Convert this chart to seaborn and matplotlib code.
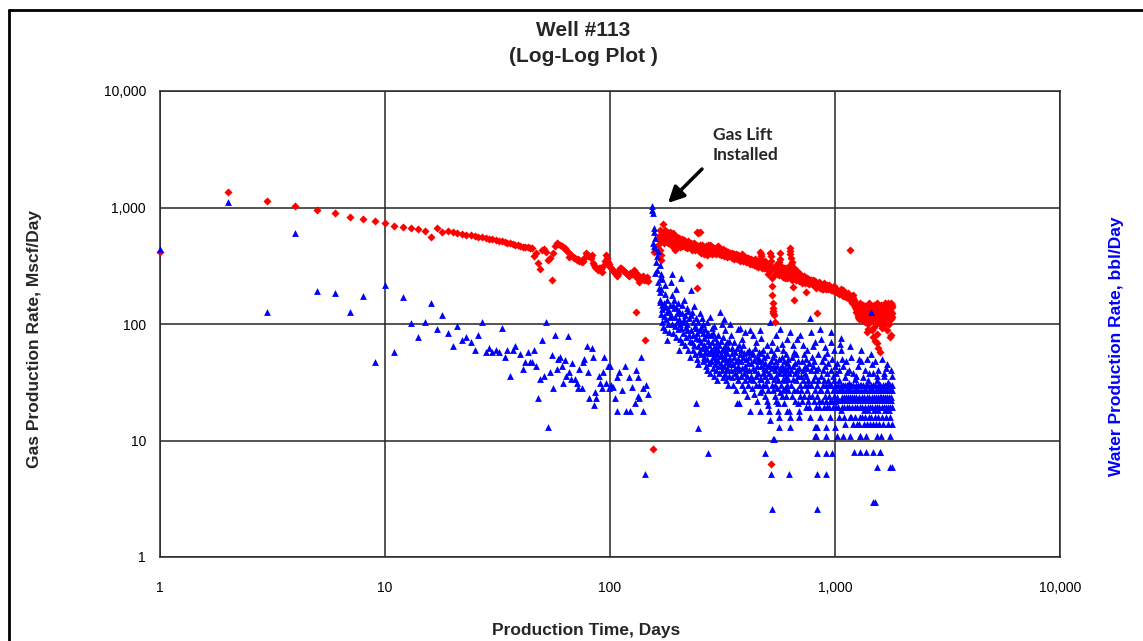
import matplotlib
matplotlib.use("Agg")
import matplotlib.pyplot as plt
import seaborn as sns
import pandas as pd
from matplotlib.lines import Line2D
from matplotlib.ticker import FixedLocator, FixedFormatter, NullLocator

sns.set_theme(style="white")
plt.rcParams["font.family"] = ["Liberation Sans", "DejaVu Sans"]

# ---------------- data (day, rate) ----------------
gas_pre_lift = [
    (1, 415), (2, 1360), (3, 1140), (4, 1030), (5, 952), (6, 897), (7, 830), (8, 800), (9, 765), (10, 736),
    (11, 700), (12, 680), (13, 667), (14, 650), (15, 625), (16, 558), (17, 667), (18, 617), (19, 625), (20, 617),
    (21, 600), (22, 592), (23, 584), (24, 577), (25, 570), (26, 562), (27, 555), (28, 548), (29, 541), (30, 534),
    (31, 527), (32, 520), (33, 514), (34, 507), (35, 500), (36, 494), (37, 486), (38, 480), (39, 473), (40, 466),
    (41, 458), (42, 462), (43, 455), (44, 452), (45, 448), (46, 384), (47, 410), (48, 334), (49, 297), (50, 433),
    (51, 440), (52, 418), (53, 354), (54, 365), (55, 239), (56, 405), (57, 470), (58, 496), (59, 485), (60, 476),
    (61, 465), (62, 455), (63, 445), (64, 433), (65, 412), (66, 376), (67, 392), (68, 382), (69, 370), (70, 365),
    (71, 354), (72, 358), (73, 350), (74, 345), (75, 340), (76, 348), (77, 372), (78, 405), (79, 395), (80, 380),
    (82, 372), (83, 390), (84, 334), (85, 320), (86, 310), (87, 300), (88, 290), (89, 305), (90, 300), (91, 295),
    (92, 280), (94, 320), (95, 350), (96, 390), (97, 365), (98, 340), (99, 325), (100, 309), (101, 300), (103, 290),
    (104, 282), (105, 275), (106, 268), (107, 256), (108, 270), (110, 290), (111, 305), (112, 300), (114, 290), (115, 285),
    (117, 278), (118, 274), (120, 265), (121, 260), (123, 275), (125, 270), (127, 282), (128, 290), (129, 275), (130, 127),
    (131, 253), (132, 268), (133, 265), (134, 248), (135, 229), (136, 240), (138, 245), (139, 255), (140, 260), (141, 250),
    (142, 238), (143, 73), (144, 245), (145, 240), (146, 255), (147, 232), (156, 8.4),
]

gas_post_lift = [
    (157, 415), (164, 478), (165, 560), (166, 433), (167, 580), (168, 354), (169, 390), (170, 614), (172, 721), (174, 600),
    (176, 590), (178, 560), (180, 620), (182, 575), (184, 600), (186, 560), (188, 545), (190, 580), (192, 540), (194, 433),
    (195, 550), (197, 505), (199, 525), (201, 530), (203, 500), (205, 520), (207, 505), (209, 498), (211, 515), (213, 510),
    (215, 490), (217, 480), (220, 478), (222, 470), (225, 490), (228, 495), (230, 475), (232, 460), (234, 470), (236, 470),
    (238, 455), (240, 450), (243, 614), (244, 204), (246, 600), (248, 321), (250, 614), (252, 460), (254, 440), (256, 465),
    (258, 455), (260, 450), (262, 430), (264, 445), (266, 420), (268, 440), (270, 390), (272, 425), (274, 478), (277, 478),
    (280, 450), (282, 440), (285, 435), (288, 430), (291, 445), (294, 420), (297, 432), (300, 458), (303, 440), (306, 430),
    (309, 420), (312, 415), (315, 425), (318, 405), (321, 418), (325, 420), (328, 400), (332, 395), (336, 410), (340, 400),
    (345, 390), (350, 405), (355, 395), (360, 385), (365, 392), (370, 380), (375, 375), (380, 370), (385, 382), (390, 376),
    (395, 365), (400, 360), (405, 368), (410, 350), (415, 360), (420, 345), (425, 352), (430, 340), (435, 348), (440, 360),
    (445, 335), (450, 330), (455, 345), (460, 325), (465, 415), (467, 400), (469, 380), (471, 360), (473, 340), (475, 302),
    (478, 330), (480, 340), (485, 318), (490, 320), (495, 312), (500, 330), (505, 270), (508, 290), (510, 300), (513, 320),
    (515, 405), (517, 380), (519, 350), (521, 310), (523, 250), (525, 177), (527, 210), (528, 150), (529, 130), (530, 138),
    (532, 124), (535, 120), (540, 104), (543, 270), (545, 290), (550, 300), (555, 270), (560, 285), (565, 340), (570, 405),
    (572, 360), (574, 310), (576, 290), (580, 300), (585, 280), (590, 274), (595, 260), (600, 275), (605, 300), (610, 249),
    (615, 270), (620, 290), (625, 265), (630, 447), (632, 420), (634, 400), (636, 370), (638, 330), (640, 300), (642, 270),
    (645, 340), (647, 240), (650, 264), (652, 208), (655, 300), (658, 161), (660, 260), (665, 280), (670, 255), (675, 265),
    (680, 264), (685, 245), (690, 250), (695, 260), (700, 270), (705, 235), (710, 240), (718, 250), (725, 255), (732, 230),
    (740, 240), (745, 190), (750, 249), (758, 225), (765, 230), (772, 240), (780, 240), (790, 220), (800, 225), (807, 235),
    (815, 230), (822, 215), (830, 216), (835, 124), (840, 222), (850, 220), (860, 205), (870, 210), (880, 200), (890, 215),
    (900, 205), (920, 216), (935, 200), (950, 205), (965, 195), (980, 204), (995, 190), (1010, 200), (1030, 185), (1050, 188),
    (1065, 180), (1080, 195), (1095, 175), (1110, 180), (1125, 170), (1140, 185), (1160, 433), (1170, 165), (1185, 172), (1200, 177),
    (1215, 160), (1230, 150), (1240, 128), (1250, 138), (1260, 115), (1270, 120), (1280, 140), (1290, 138), (1300, 110), (1310, 126),
    (1320, 125), (1335, 145), (1350, 130), (1365, 105), (1380, 119), (1390, 85), (1400, 132), (1410, 110), (1425, 140), (1440, 135),
    (1455, 112), (1470, 127), (1480, 77), (1490, 145), (1500, 115), (1515, 120), (1530, 69), (1540, 130), (1555, 105), (1560, 140),
    (1575, 115), (1590, 57), (1600, 138), (1615, 128), (1630, 120), (1645, 108), (1660, 110), (1670, 150), (1680, 127), (1695, 118),
    (1710, 145), (1725, 112), (1740, 135), (1750, 77), (1760, 130), (1775, 120), (1790, 139), (1800, 125), (520, 6.3),
]

gas_post_lift_band = [
    (166, 640), (169, 520), (171, 560), (173, 500), (175, 640), (177, 520), (179, 600), (181, 500), (183, 540), (185, 620),
    (187, 510), (189, 470), (191, 600), (193, 520), (196, 480), (198, 560), (200, 470), (202, 545), (204, 460), (206, 500),
    (208, 540), (210, 465), (212, 480), (214, 530), (216, 455), (218, 505), (221, 445), (223, 520), (226, 460), (229, 470),
    (231, 430), (233, 490), (235, 445), (237, 500), (239, 430), (242, 480), (245, 440), (247, 470), (249, 420), (251, 480),
    (253, 410), (255, 430), (257, 480), (259, 415), (261, 460), (263, 400), (265, 440), (267, 470), (269, 410), (271, 445),
    (273, 400), (276, 430), (279, 410), (281, 470), (284, 400), (287, 450), (290, 405), (293, 440), (296, 395), (299, 420),
    (302, 470), (305, 395), (308, 440), (311, 390), (314, 405), (317, 440), (320, 385), (324, 400), (327, 425), (330, 375),
    (334, 415), (338, 380), (342, 410), (347, 370), (352, 390), (357, 360), (362, 400), (367, 360), (372, 390), (377, 350),
    (382, 360), (387, 395), (392, 345), (397, 375), (402, 340), (407, 355), (412, 370), (417, 330), (422, 360), (427, 325),
    (432, 350), (437, 320), (442, 345), (447, 315), (452, 350), (457, 310), (462, 340), (482, 300), (487, 345), (492, 300),
    (497, 330), (502, 290), (507, 320), (512, 285), (537, 300), (547, 320), (552, 280), (558, 310), (562, 265), (567, 300),
    (578, 270), (582, 310), (587, 255), (592, 300), (597, 285), (602, 250), (607, 280), (612, 300), (617, 255), (622, 275),
    (627, 300), (657, 280), (662, 245), (667, 270), (672, 240), (677, 285), (682, 250), (687, 265), (692, 235), (697, 255),
    (702, 245), (707, 260), (714, 225), (721, 245), (728, 260), (736, 225), (743, 250), (752, 230), (760, 245), (768, 220),
    (776, 235), (785, 225), (795, 240), (803, 215), (811, 225), (819, 235), (826, 205), (845, 230), (855, 210), (865, 220),
    (875, 200), (885, 210), (895, 225), (910, 200), (928, 205), (943, 215), (958, 195), (972, 200), (988, 210), (1003, 190),
    (1020, 195), (1040, 180), (1058, 200), (1072, 185), (1088, 175), (1102, 190), (1118, 170), (1133, 178), (1150, 165), (1178, 160),
    (1192, 150), (1208, 168), (1222, 140), (1235, 135), (1245, 150), (1255, 125), (1265, 140), (1275, 110), (1285, 125), (1295, 150),
    (1305, 118), (1315, 140), (1328, 110), (1342, 128), (1357, 142), (1372, 115), (1386, 135), (1395, 100), (1405, 125), (1418, 150),
    (1432, 118), (1447, 142), (1462, 108), (1476, 138), (1486, 95), (1495, 125), (1508, 135), (1522, 100), (1535, 150), (1548, 118),
    (1566, 128), (1582, 100), (1595, 145), (1608, 115), (1622, 135), (1638, 105), (1652, 130), (1665, 100), (1676, 140), (1688, 112),
    (1702, 128), (1718, 150), (1732, 100), (1748, 140), (1768, 110), (1782, 150), (1795, 115), (1800, 145),
    (1400, 90), (1460, 88), (1540, 82), (1620, 92), (1700, 88), (1780, 80), (1560, 62), (1500, 72),
]

water_pre_lift = [
    (1, 440), (2, 1115), (3, 127), (4, 605), (5, 192), (6, 186), (7, 127), (8, 174), (9, 47), (10, 216),
    (11, 57.5), (12, 170), (13, 102), (14, 77), (15, 104), (16, 151), (17, 90), (18, 119), (19, 84), (20, 65),
    (21, 96), (22, 73), (23, 77), (24, 70), (25, 60), (26, 80), (27, 104), (28, 57.5), (29, 62), (30, 57.5),
    (31, 60), (32, 57.5), (33, 92), (34, 52), (35, 60), (36, 36), (37, 60), (38, 65), (40, 55), (41, 41),
    (42, 47), (43, 57), (44, 47), (45, 47), (46, 60), (47, 44), (48, 23), (49, 34), (50, 73), (51, 36),
    (52, 104), (53, 13), (54, 39), (55, 54), (56, 28), (57, 80), (58, 41), (59, 50), (60, 52), (61, 44),
    (62, 31), (63, 49), (64, 36), (65, 79), (66, 39), (67, 34), (68, 46), (70, 34), (71, 31), (72, 28),
    (73, 41), (75, 28), (76, 47), (77, 50), (79, 65), (80, 39), (81, 23), (83, 62), (84, 52), (85, 20),
    (86, 26), (87, 23), (89, 36), (90, 31), (92, 28), (93, 39), (94, 52), (96, 31), (98, 44), (99, 28),
    (100, 44), (101, 30), (103, 29), (105, 23), (107, 18), (107, 35), (110, 39), (113, 27), (116, 44), (118, 18),
    (122, 35), (123, 18), (125, 29), (129, 21), (131, 40), (133, 35), (133, 24), (135, 23), (138, 52), (140, 28),
    (140, 18), (143, 5.2), (145, 30), (147, 25),
]

water_lift_spike = [
    (153, 1030), (154, 950), (155, 900), (157, 667), (157, 614), (158, 545), (156, 496), (157, 470), (159, 450), (160, 340),
    (158, 274), (162, 290), (163, 229), (165, 204), (167, 188), (168, 253), (167, 155), (170, 146), (164, 420), (161, 380),
    (166, 320), (169, 270),
]

water_decline = [
    (167, 160), (168, 122), (169, 200), (170, 104), (171, 135), (172, 95), (173, 150), (174, 118), (175, 180), (176, 88),
    (177, 140), (178, 110), (179, 127), (180, 160), (181, 100), (182, 130), (183, 85), (184, 145), (185, 115), (170, 245),
    (176, 215), (180, 73),
    (186, 229), (187, 120), (188, 269), (189, 100), (190, 146), (191, 84), (192, 138), (193, 160), (194, 96), (195, 115),
    (196, 140), (197, 77), (198, 125), (199, 105), (200, 150), (201, 90), (202, 130), (203, 110), (204, 75), (205, 100),
    (189, 177), (197, 200), (203, 60),
    (206, 248), (207, 92), (208, 125), (209, 70), (210, 145), (211, 104), (212, 84), (213, 160), (214, 110), (215, 66),
    (216, 120), (217, 95), (218, 77), (219, 138), (220, 88), (221, 100), (222, 60), (223, 130), (224, 80), (225, 112),
    (226, 72), (227, 52),
    (228, 195), (229, 88), (230, 119), (231, 70), (232, 127), (233, 60), (234, 104), (235, 80), (236, 142), (237, 66),
    (238, 97), (239, 55), (240, 112), (241, 76), (242, 92), (243, 50), (244, 84), (245, 65), (246, 104), (247, 45),
    (248, 75), (249, 58), (250, 88), (240, 21), (247, 12.8),
    (252, 124), (253, 70), (254, 95), (255, 55), (256, 112), (257, 62), (258, 84), (259, 48), (260, 100), (261, 66),
    (262, 76), (263, 52), (264, 90), (265, 58), (266, 44), (267, 80), (268, 62), (269, 50), (270, 105), (271, 40),
    (272, 72), (273, 56), (274, 84), (275, 46), (276, 66), (277, 38), (272, 7.8),
    (279, 115), (280, 60), (281, 80), (282, 48), (283, 92), (284, 56), (285, 70), (286, 42), (287, 84), (288, 52),
    (289, 64), (290, 36), (291, 96), (292, 58), (293, 45), (294, 76), (295, 50), (296, 62), (297, 40), (298, 70),
    (299, 55), (300, 33), (301, 80), (302, 48), (303, 60), (304, 44), (305, 66), (306, 38), (307, 53),
]

water_mid = [
    (309, 127), (311, 55), (312, 72), (313, 45), (314, 100), (315, 60), (316, 40), (317, 78), (318, 50), (319, 35),
    (320, 110), (321, 62), (322, 44), (323, 88), (324, 52), (325, 37), (326, 66), (327, 47), (328, 58), (329, 33),
    (330, 70), (331, 42), (332, 56), (333, 30), (334, 62), (335, 48), (336, 40), (337, 50), (338, 36), (339, 72),
    (340, 45),
    (342, 100), (343, 50), (345, 40), (346, 80), (347, 56), (349, 35), (350, 62), (352, 45), (353, 30), (355, 70),
    (356, 52), (358, 38), (359, 58), (361, 42), (362, 27), (364, 48), (365, 21), (366, 62), (368, 36), (369, 50),
    (371, 33), (372, 44), (373, 66), (375, 21), (376, 40), (377, 55), (370, 90),
    (379, 92), (381, 48), (383, 36), (384, 60), (386, 42), (388, 30), (389, 66), (391, 52), (393, 38), (395, 27),
    (396, 56), (398, 44), (400, 33), (402, 50), (403, 40), (405, 24), (407, 58), (408, 36), (410, 46), (412, 30),
    (413, 52), (415, 60), (416, 40), (417, 18), (418, 34), (385, 75), (399, 85),
    (420, 89), (422, 46), (424, 36), (426, 58), (428, 28), (430, 42), (432, 55), (434, 33), (436, 49), (438, 25),
    (440, 40), (442, 62), (444, 36), (446, 30), (448, 52), (450, 44), (452, 22), (454, 38), (456, 48), (458, 30),
    (459, 50), (461, 58), (462, 34), (463, 18), (464, 26), (430, 80), (445, 70),
    (465, 89), (467, 44), (469, 34), (471, 56), (473, 27), (475, 48), (477, 38), (479, 60), (481, 30), (483, 42),
    (485, 52), (487, 24), (489, 36), (490, 7.8), (491, 46), (493, 30), (495, 40), (497, 22), (499, 54), (501, 33),
    (503, 44), (505, 27), (507, 38), (509, 45), (511, 18), (513, 15), (468, 76), (497, 66), (505, 20),
    (515, 104), (517, 48), (519, 36), (520, 5.2), (521, 60), (523, 30), (525, 2.58), (526, 42), (528, 52), (530, 10.3),
    (531, 27), (533, 44), (535, 34), (537, 55), (538, 10.3), (539, 24), (541, 40), (543, 30), (545, 48), (547, 22),
    (549, 36), (551, 62), (553, 28), (555, 44), (557, 21), (559, 33), (561, 50), (563, 16), (565, 38), (566, 13),
    (567, 26), (569, 42), (524, 70), (548, 80), (560, 18),
    (572, 90), (574, 40), (577, 30), (579, 52), (581, 24), (583, 44), (585, 34), (587, 60), (589, 27), (591, 38),
    (593, 48), (595, 21), (597, 33), (599, 42), (601, 28), (603, 55), (605, 36), (607, 24), (609, 46), (611, 30),
    (613, 40), (615, 18), (617, 34), (619, 50), (621, 27), (623, 38), (624, 18), (625, 5.2), (627, 44), (628, 15.9),
    (630, 13), (580, 68), (610, 75),
    (634, 85), (637, 40), (640, 30), (643, 52), (646, 24), (649, 44), (652, 34), (655, 58), (658, 27), (661, 38),
    (664, 46), (667, 22), (670, 55), (673, 33), (676, 40), (679, 27), (682, 48), (685, 21), (688, 36), (690, 18),
    (692, 15.9), (694, 42), (696, 30), (698, 24), (650, 66), (680, 75),
    (702, 80), (705, 36), (709, 27), (712, 48), (716, 22), (719, 40), (723, 33), (726, 55), (730, 24), (733, 44),
    (737, 30), (740, 19.4), (744, 50), (747, 36), (751, 27), (754, 42), (758, 22), (761, 33), (765, 46), (768, 24),
    (770, 19.4), (772, 16), (720, 66), (750, 60), (735, 38), (760, 30),
    (778, 112), (782, 40), (786, 30), (790, 52), (794, 24), (798, 44), (802, 33), (806, 22), (810, 48), (814, 36),
    (818, 27), (822, 19.4), (826, 40), (830, 30), (834, 24), (838, 55), (842, 33), (846, 22), (850, 19.4), (854, 15.9),
    (830, 13), (826, 10.9), (830, 7.8), (832, 5.2), (830, 2.58), (784, 85), (800, 65), (812, 70), (840, 42), (856, 27),
    (817, 13), (817, 10.9), (826, 13),
    (862, 90), (866, 36), (870, 27), (874, 48), (878, 22), (882, 40), (886, 30), (890, 19.4), (894, 52), (898, 33),
    (902, 24), (906, 44), (910, 30), (914, 22), (918, 38), (922, 19.4), (926, 27), (930, 46), (934, 33), (938, 24),
    (942, 19.4), (946, 15.9), (910, 13), (912, 10.9), (910, 7.8), (912, 5.2), (868, 75), (900, 64), (925, 56), (940, 30),
    (950, 22),
    (955, 85), (959, 30), (963, 40), (967, 22), (971, 50), (975, 27), (979, 19.4), (983, 36), (987, 24), (991, 33),
    (995, 44), (999, 22), (1003, 30), (1007, 19.4), (1011, 38), (1015, 27), (1019, 23.6), (1023, 46), (1027, 30), (1031, 22.2),
    (1035, 19.4), (1039, 33), (1043, 27), (1047, 16), (1000, 13), (1020, 10.9), (970, 7.8), (1050, 68), (962, 70), (985, 60),
    (1040, 40),
]

water_late = [
    (1058, 76), (1062, 30), (1066, 27), (1070, 23.6), (1074, 22.2), (1078, 19.4), (1082, 44), (1086, 30), (1090, 27), (1094, 23.6),
    (1098, 22.2), (1102, 19.4), (1106, 35), (1110, 30), (1114, 27), (1118, 23.6), (1122, 22.2), (1126, 19.4), (1130, 39), (1134, 30),
    (1138, 27), (1142, 23.6), (1146, 22.2), (1150, 19.4), (1154, 31), (1158, 27), (1162, 23.6), (1166, 22.2), (1060, 18.3), (1100, 15.9),
    (1162, 15.9), (1110, 13.8), (1090, 10.9), (1160, 10.9), (1066, 60), (1074, 50), (1120, 48), (1150, 40),
    (1170, 65), (1175, 30), (1180, 27), (1185, 23.6), (1190, 22.2), (1195, 19.4), (1200, 38), (1205, 30), (1210, 27), (1215, 23.6),
    (1220, 22.2), (1225, 19.4), (1230, 34), (1235, 30), (1240, 27), (1245, 23.6), (1250, 22.2), (1255, 19.4), (1260, 44), (1265, 30),
    (1270, 27), (1275, 23.6), (1280, 22.2), (1285, 19.4), (1290, 30), (1180, 52), (1240, 36), (1280, 50), (1180, 15.9), (1230, 15.9),
    (1285, 15.9), (1200, 13.8), (1250, 13.8), (1275, 13.8), (1290, 10.9), (1220, 7.9), (1290, 7.9),
    (1300, 60), (1305, 30), (1310, 27), (1315, 23.6), (1320, 22.2), (1325, 19.4), (1330, 35), (1336, 30), (1342, 27), (1348, 23.6),
    (1354, 22.2), (1360, 19.4), (1366, 40), (1372, 30), (1378, 27), (1384, 23.6), (1390, 22.2), (1396, 19.4), (1402, 33), (1408, 30),
    (1414, 27), (1420, 23.6), (1426, 22.2), (1430, 19.4), (1310, 48), (1390, 50), (1420, 38), (1320, 15.9), (1360, 15.9), (1420, 15.9),
    (1340, 13.8), (1390, 13.8), (1425, 13.8), (1370, 10.9), (1290, 10.9), (1370, 7.9), (1340, 18.3), (1400, 18.3),
    (1440, 128), (1445, 30), (1450, 27), (1455, 23.6), (1460, 22.2), (1465, 19.4), (1470, 38), (1476, 30), (1482, 27), (1488, 23.6),
    (1494, 22.2), (1500, 19.4), (1506, 48), (1512, 30), (1518, 27), (1524, 23.6), (1530, 22.2), (1536, 19.4), (1542, 33), (1548, 30),
    (1554, 27), (1560, 23.6), (1566, 22.2), (1572, 19.4), (1578, 30), (1584, 27), (1450, 55), (1460, 45), (1560, 40), (1580, 23.6),
    (1450, 15.9), (1500, 15.9), (1560, 15.9), (1480, 13.8), (1520, 13.8), (1570, 13.8), (1530, 10.9), (1470, 7.9), (1580, 7.9), (1530, 5.9),
    (1470, 2.96), (1510, 2.96), (1490, 18.3), (1550, 18.3), (1540, 36),
    (1590, 30), (1596, 27), (1602, 23.6), (1608, 22.2), (1614, 19.4), (1620, 50), (1626, 30), (1632, 27), (1638, 23.6), (1644, 22.2),
    (1650, 19.4), (1656, 36), (1662, 30), (1668, 27), (1674, 23.6), (1680, 22.2), (1686, 19.4), (1692, 42), (1698, 30), (1704, 27),
    (1710, 23.6), (1716, 22.2), (1722, 19.4), (1728, 32), (1734, 30), (1740, 27), (1746, 23.6), (1752, 22.2), (1758, 19.4), (1764, 30),
    (1770, 27), (1776, 23.6), (1782, 22.2), (1788, 19.4), (1794, 30), (1800, 27), (1700, 45), (1780, 40), (1650, 38), (1800, 36),
    (1620, 15.9), (1680, 15.9), (1760, 15.9), (1640, 13.8), (1720, 13.8), (1790, 13.8), (1750, 10.9), (1600, 10.9), (1590, 7.9), (1750, 5.9),
    (1790, 5.9), (1660, 18.3), (1740, 18.3),
]

axis_ticks = [1, 10, 100, 1000, 10000]
axis_tick_labels = ["1", "10", "100", "1,000", "10,000"]

title_lines = ["Well #113", "(Log-Log Plot )"]
x_label = "Production Time, Days"
y_label_left = "Gas Production Rate, Mscf/Day"
y_label_right = "Water Production Rate, bbl/Day"
note_text = "Gas Lift\nInstalled"

# ---------------- build tables ----------------
gas_df = pd.DataFrame(gas_pre_lift + gas_post_lift + gas_post_lift_band, columns=["Day", "Rate"])
water_df = pd.DataFrame(water_pre_lift + water_lift_spike + water_decline + water_mid + water_late,
                        columns=["Day", "Rate"])

W, H = 1143, 641
fig = plt.figure(figsize=(W / 100, H / 100), dpi=100)
fig.patch.set_facecolor("white")
ax = fig.add_axes([160 / W, 1 - 557 / H, 900 / W, 466 / H])
ax.set_facecolor("white")

sns.scatterplot(data=gas_df, x="Day", y="Rate", marker="D", color="#FF0000",
                s=17, linewidth=0, ax=ax, zorder=3, clip_on=False)
sns.scatterplot(data=water_df, x="Day", y="Rate", marker="^", color="#0000FF",
                s=24, linewidth=0, ax=ax, zorder=4, clip_on=False)

ax.set_xscale("log")
ax.set_yscale("log")
ax.set_xlim(1, 10000)
ax.set_ylim(1, 10000)
for axis in (ax.xaxis, ax.yaxis):
    axis.set_major_locator(FixedLocator(axis_ticks))
    axis.set_major_formatter(FixedFormatter(axis_tick_labels))
    axis.set_minor_locator(NullLocator())
ax.set_xlabel("")
ax.set_ylabel("")

ax.grid(True, which="major", color="#262626", linewidth=1.1)
ax.set_axisbelow(True)
for sp in ax.spines.values():
    sp.set_visible(True)
    sp.set_color("#262626")
    sp.set_linewidth(1.1)
ax.tick_params(axis="both", which="major", direction="out", length=5, width=1.1,
               color="#262626", labelsize=10, labelcolor="black")
ax.tick_params(axis="x", pad=12)
ax.tick_params(axis="y", pad=5)

# titles and labels
fig.text(583 / W, 1 - 31 / H, title_lines[0], ha="center", va="center",
         fontsize=15, fontweight="bold")
fig.text(583 / W, 1 - 57 / H, title_lines[1], ha="center", va="center",
         fontsize=15, fontweight="bold")
fig.text(586 / W, 1 - 630 / H, x_label, ha="center", va="center",
         fontsize=12.5, fontweight="bold")
fig.text(35 / W, 1 - 339 / H, y_label_left, ha="center", va="center",
         rotation=90, fontsize=12.5, fontweight="bold")
fig.text(1116 / W, 1 - 346 / H, y_label_right, ha="center", va="center",
         rotation=90, fontsize=12.5, fontweight="bold", color="#0000FF")

# annotation
fig.text(713 / W, 1 - 145 / H, note_text, ha="left", va="center",
         fontsize=12.5, fontweight="bold", family=["Lato", "DejaVu Sans"],
         linespacing=1.35)
ax.annotate("", xy=((668 - 160) / 900, (557 - 203) / 466), xycoords="axes fraction",
            xytext=((702 - 160) / 900, (557 - 169) / 466), textcoords="axes fraction",
            arrowprops=dict(arrowstyle="-|>,head_width=0.4,head_length=0.8",
                            lw=2.5, color="black", shrinkA=0, shrinkB=0),
            zorder=6)

# outer chart frame (left and top edges visible in the reference)
fig.add_artist(Line2D([9 / W, 9 / W], [0, 1 - 10 / H], transform=fig.transFigure,
                      color="black", linewidth=2))
fig.add_artist(Line2D([9 / W, 1], [1 - 10 / H, 1 - 10 / H], transform=fig.transFigure,
                      color="black", linewidth=2))

fig.savefig("out.png", dpi=100, facecolor="white")
